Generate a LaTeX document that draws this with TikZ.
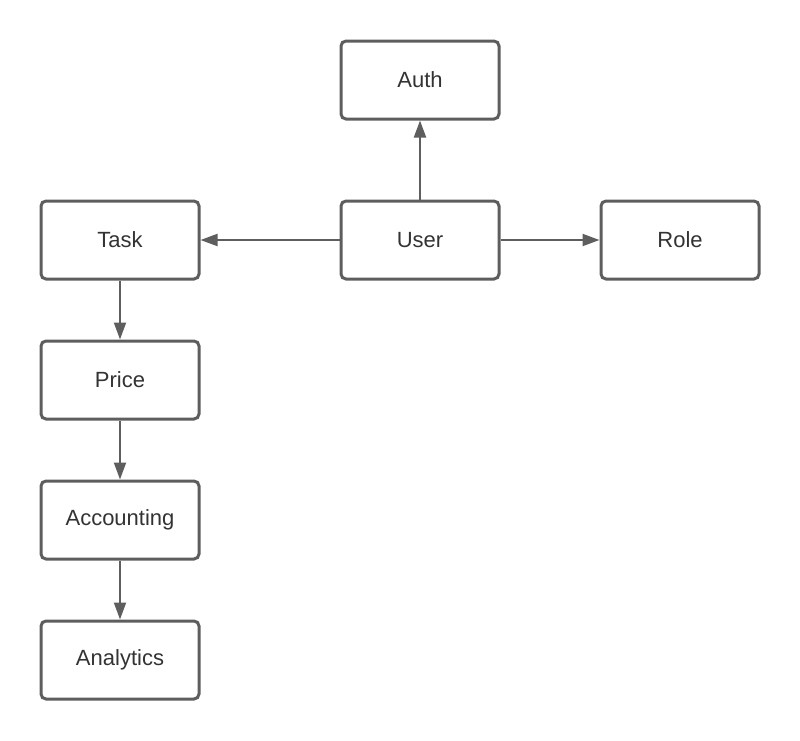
\documentclass[tikz,border=0pt]{standalone}
\usepackage{fontspec}
\setmainfont{Liberation Sans}
\usetikzlibrary{arrows.meta}
\definecolor{edge}{HTML}{5E5E5E}
\definecolor{txt}{HTML}{333333}
\begin{document}
\begin{tikzpicture}[x=1pt,y=-1pt,
  box/.style={draw=edge, line width=3pt, rounded corners=5pt, fill=white,
    minimum width=158pt, minimum height=78pt, inner sep=0pt,
    font=\fontsize{22}{26}\selectfont, text=txt},
  conn/.style={draw=edge, line width=2pt, -{Triangle[length=17pt,width=12pt]}}]
\useasboundingbox (0,0) rectangle (800,740);
\fill[white] (0,0) rectangle (800,740);
\node[box] (auth) at (420,80) {Auth};
\node[box] (user) at (420,240) {User};
\node[box] (task) at (120,240) {Task};
\node[box] (role) at (680,240) {Role};
\node[box] (price) at (120,380) {Price};
\node[box] (acc) at (120,520) {Accounting};
\node[box] (ana) at (120,660) {Analytics};
\draw[conn] (user) -- (auth);
\draw[conn] (user) -- (task);
\draw[conn] (user) -- (role);
\draw[conn] (task) -- (price);
\draw[conn] (price) -- (acc);
\draw[conn] (acc) -- (ana);
\end{tikzpicture}
\end{document}
